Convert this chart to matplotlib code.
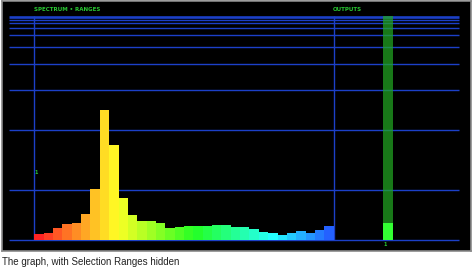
import colorsys
import numpy as np
import matplotlib
matplotlib.use("Agg")
import matplotlib.pyplot as plt

# spectrum bins (height above baseline, arbitrary units)
spectrum = [5.8, 6.8, 12, 16, 17, 26, 51, 130.5, 95.5, 42, 25, 19.5, 19.5, 17.3,
            12, 13.3, 14.3, 14.3, 14.3, 15.3, 15.3, 13.5, 13, 10.7, 7.7, 6.7,
            5.3, 7.2, 8.8, 7.2, 9.6, 13.6]
output_level = 17.3
output_full = 224
grid_levels = [0, 50, 109.8, 149.8, 176.5, 193, 205, 212, 217.5, 220.4]
top_level = 223.3
labels = ["SPECTRUM \u2022 RANGES", "OUTPUTS"]
caption = "The graph, with Selection Ranges hidden"

W, H = 473, 269
fig = plt.figure(figsize=(W / 100, H / 100), dpi=100)
fig.patch.set_facecolor("white")

# panel spans pixels x 2..471, y 1..251 ; bin width 9.356 px, first bin at 34.3 px
px0, bw, base = 34.3, 9.356, 240
ax = fig.add_axes([2 / W, (H - 251) / H, 469 / W, 250 / H])
ax.set_facecolor("black")
ax.set_xlim((2 - px0) / bw, (471 - px0) / bw)
ax.set_ylim(base - 251, base - 1)
ax.set_xticks([])
ax.set_yticks([])
for s in ax.spines.values():
    s.set_color("#8a8a8a")
    s.set_linewidth(1.2)

line_col = "#1c40c8"
x_left, x_right = (9 - px0) / bw, (459 - px0) / bw
ax.hlines(grid_levels, x_left, x_right, color=line_col, lw=1.0, zorder=1)
ax.hlines(top_level, x_left, x_right, color=line_col, lw=1.9, zorder=1)
n = len(spectrum)
ax.vlines([0, n], 0, top_level + 1, color=line_col, lw=1.0, zorder=1)

hues = np.linspace(0, 0.62, n)
colors = [colorsys.hsv_to_rgb(h, 0.86, 1.0) for h in hues]
ax.bar(np.arange(n), spectrum, width=1.0, align="edge", color=colors,
       linewidth=0, zorder=2)

# output column
ox = (383 - px0) / bw
ow = 10 / bw
ax.bar(ox, output_full, width=ow, align="edge", color="#22a822", alpha=0.72,
       linewidth=0, zorder=3)
ax.bar(ox, output_level, width=ow, align="edge", color="#33ff33",
       linewidth=0, zorder=4)

green = "#29c832"
ax.text(0, top_level + 4.5, labels[0], color=green, fontsize=4.0,
        fontweight="heavy", va="bottom", ha="left")
ax.text(n - 0.05, top_level + 4.5, labels[1], color=green, fontsize=4.0,
        fontweight="heavy", va="bottom", ha="left")
ax.text(0.05, 67, "1", color=green, fontsize=3.5, fontweight="bold",
        va="center", ha="left")
ax.text(ox + 0.05, -4, "1", color=green, fontsize=3.5, fontweight="bold",
        va="center", ha="left")

fig.text(2 / W, 1 - 262 / H, caption, fontsize=7, color="#222222",
         family="Liberation Sans", va="center", ha="left")

fig.savefig("out.png", dpi=100, facecolor="white")
